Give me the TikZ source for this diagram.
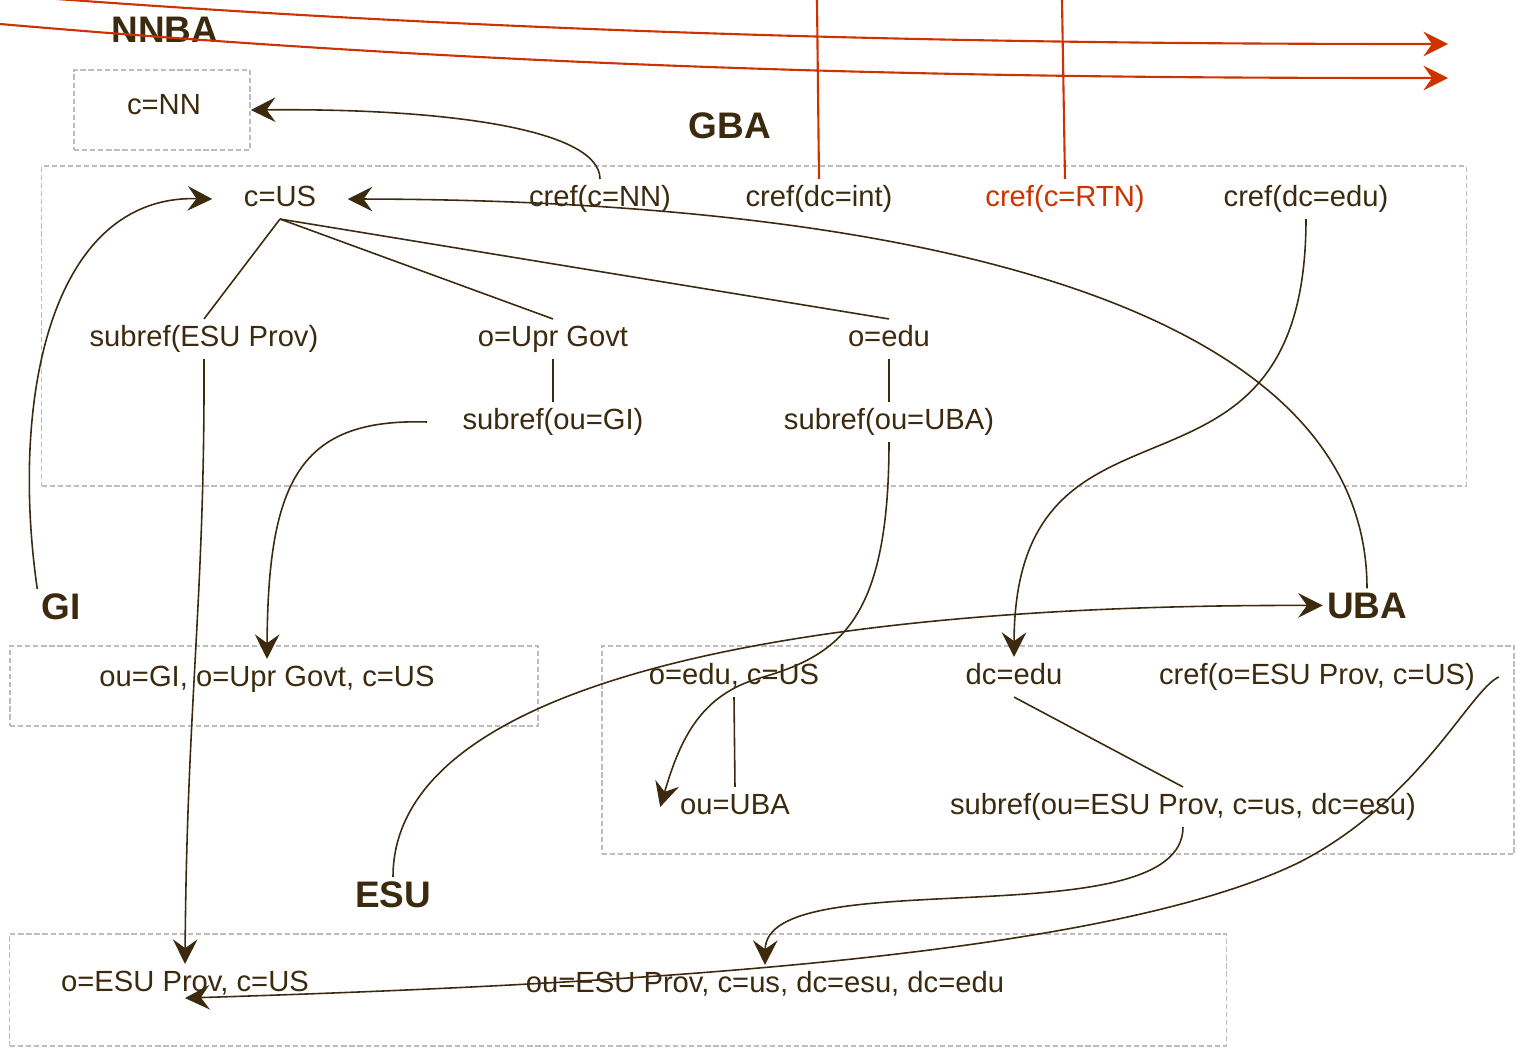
\documentclass[tikz,border=0pt]{standalone}
\usepackage{fontspec}
\setmainfont{Liberation Sans}
\usetikzlibrary{arrows.meta}
\definecolor{ink}{HTML}{3C2A0E}
\definecolor{rtn}{HTML}{CC3300}
\definecolor{boxline}{HTML}{BDBDBD}

\begin{document}
\begin{tikzpicture}[
  x=0.01cm, y=-0.01cm,
  entry/.style={font=\fontsize{8.3}{10}\selectfont, text=ink, inner sep=1.5pt, text height=6.2pt, text depth=1.8pt},
  title/.style={font=\fontsize{10.5}{12}\selectfont\bfseries, text=ink, inner sep=1pt, anchor=base},
  area/.style={draw=boxline, dash pattern=on 1.5pt off 0.8pt, line width=0.45pt, inner sep=0pt},
  link/.style={draw=ink, line width=0.45pt},
  ref/.style={link, -{Stealth[length=7pt,width=7pt,inset=2.5pt]}},
  rtnline/.style={draw=rtn, line width=0.6pt},
]
  \useasboundingbox (0,0) rectangle (1517,1051);
  \clip (0,0) rectangle (1517,1051);

  \node[area, minimum width=1.76cm, minimum height=0.8cm] (nnbox) at (162,110) {};
  \node[area, minimum width=14.24cm, minimum height=3.2cm] (gbabox) at (754,326) {};
  \node[area, minimum width=5.28cm, minimum height=0.8cm] (gibox) at (274,686) {};
  \node[area, minimum width=9.12cm, minimum height=2.08cm] (ubabox) at (1058,750) {};
  \node[area, minimum width=12.16cm, minimum height=1.12cm] (esubox) at (618,990) {};

  \node[title] (nnba) at (165,42) {NNBA};
  \node[title] (gba) at (730,138) {GBA};
  \node[title] (gi) at (61,619) {GI};
  \node[title] (uba) at (1367,618) {UBA};
  \node[title] (esu) at (393,907) {ESU};

  \node[entry] (cnn) at (164,107) {c=NN};
  \node[entry, minimum width=1.34cm] (cus) at (280,199) {c=US};
  \node[entry] (crefnn) at (600,199) {cref(c=NN)};
  \node[entry] (crefint) at (819,199) {cref(dc=int)};
  \node[entry, text=rtn] (crefrtn) at (1065,199) {cref(c=RTN)};
  \node[entry] (crefedu) at (1306,199) {cref(dc=edu)};
  \node[entry] (subprov) at (204,339) {subref(ESU Prov)};
  \node[entry] (oupr) at (553,339) {o=Upr Govt};
  \node[entry] (oedu) at (889,339) {o=edu};
  \node[entry, minimum width=2.5cm] (subgi) at (553,422) {subref(ou=GI)};
  \node[entry] (sububa) at (889,422) {subref(ou=UBA)};
  \node[entry] (giou) at (267,679) {ou=GI, o=Upr Govt, c=US};
  \node[entry] (oeducus) at (734,677) {o=edu, c=US};
  \node[entry] (dcedu) at (1014,677) {dc=edu};
  \node[entry, minimum width=3.62cm] (crefesu) at (1317,677) {cref(o=ESU Prov, c=US)};
  \node[entry] (ouuba) at (735,807) {ou=UBA};
  \node[entry] (subesu) at (1183,807) {subref(ou=ESU Prov, c=us, dc=esu)};
  \node[entry] (oesu) at (185,984) {o=ESU Prov, c=US};
  \node[entry] (ouesu) at (765,985) {ou=ESU Prov, c=us, dc=esu, dc=edu};

  \coordinate (intup) at (817,0);
  \coordinate (rtnup) at (1062,0);
  \coordinate (feedA) at (30,-3);
  \coordinate (feedB) at (0,24);
  \coordinate (outA) at (1448,44);
  \coordinate (outB) at (1448,78);

  \draw[rtnline] (crefint.north) -- (intup);
  \draw[rtnline] (crefrtn.north) -- (rtnup);
  \draw[rtnline, -{Stealth[length=7pt,width=7pt,inset=2.5pt]}] (feedA) .. controls (600,40) and (1100,44) .. (outA);
  \draw[rtnline, -{Stealth[length=7pt,width=7pt,inset=2.5pt]}] (feedB) .. controls (600,76) and (1100,78) .. (outB);

  \draw[link] (cus.south) -- (subprov.north);
  \draw[link] (cus.south) -- (oupr.north);
  \draw[link] (cus.south) -- (oedu.north);
  \draw[link] (oupr.south) -- (subgi.north);
  \draw[link] (oedu.south) -- (sububa.north);
  \draw[link] (oeducus.south) -- (ouuba.north);
  \draw[link] (dcedu.south) -- (subesu.north);

  \draw[ref] (crefnn.north) .. controls (600,130) and (450,108) .. (nnbox.east);
  \draw[ref] (uba.north) .. controls (1367,300) and (900,200) .. (cus.east);
  \draw[ref] (gi.north west) .. controls (10,400) and (50,195) .. (cus.west);
  \draw[ref] (subgi.west) .. controls (300,418) and (268,480) .. (giou.north);
  \draw[ref] (sububa.south) .. controls (889,620) and (840,655) .. (760,678) .. controls (700,695) and (680,740) .. ([xshift=-4pt]ouuba.west);
  \draw[ref] (crefedu.south) .. controls (1306,540) and (1015,360) .. (dcedu.north);
  \draw[ref] (subesu.south) .. controls (1183,940) and (766,860) .. (ouesu.north);
  \draw[ref] (crefesu.east) .. controls (1470,690) and (1420,800) .. (1300,862) .. controls (1100,960) and (600,985) .. ([yshift=-4pt]oesu.center);
  \draw[ref] (subprov.south) .. controls (205,600) and (187,700) .. (oesu.north);
  \draw[ref] (esu.north) .. controls (393,680) and (800,604) .. (uba.west);
\end{tikzpicture}
\end{document}
